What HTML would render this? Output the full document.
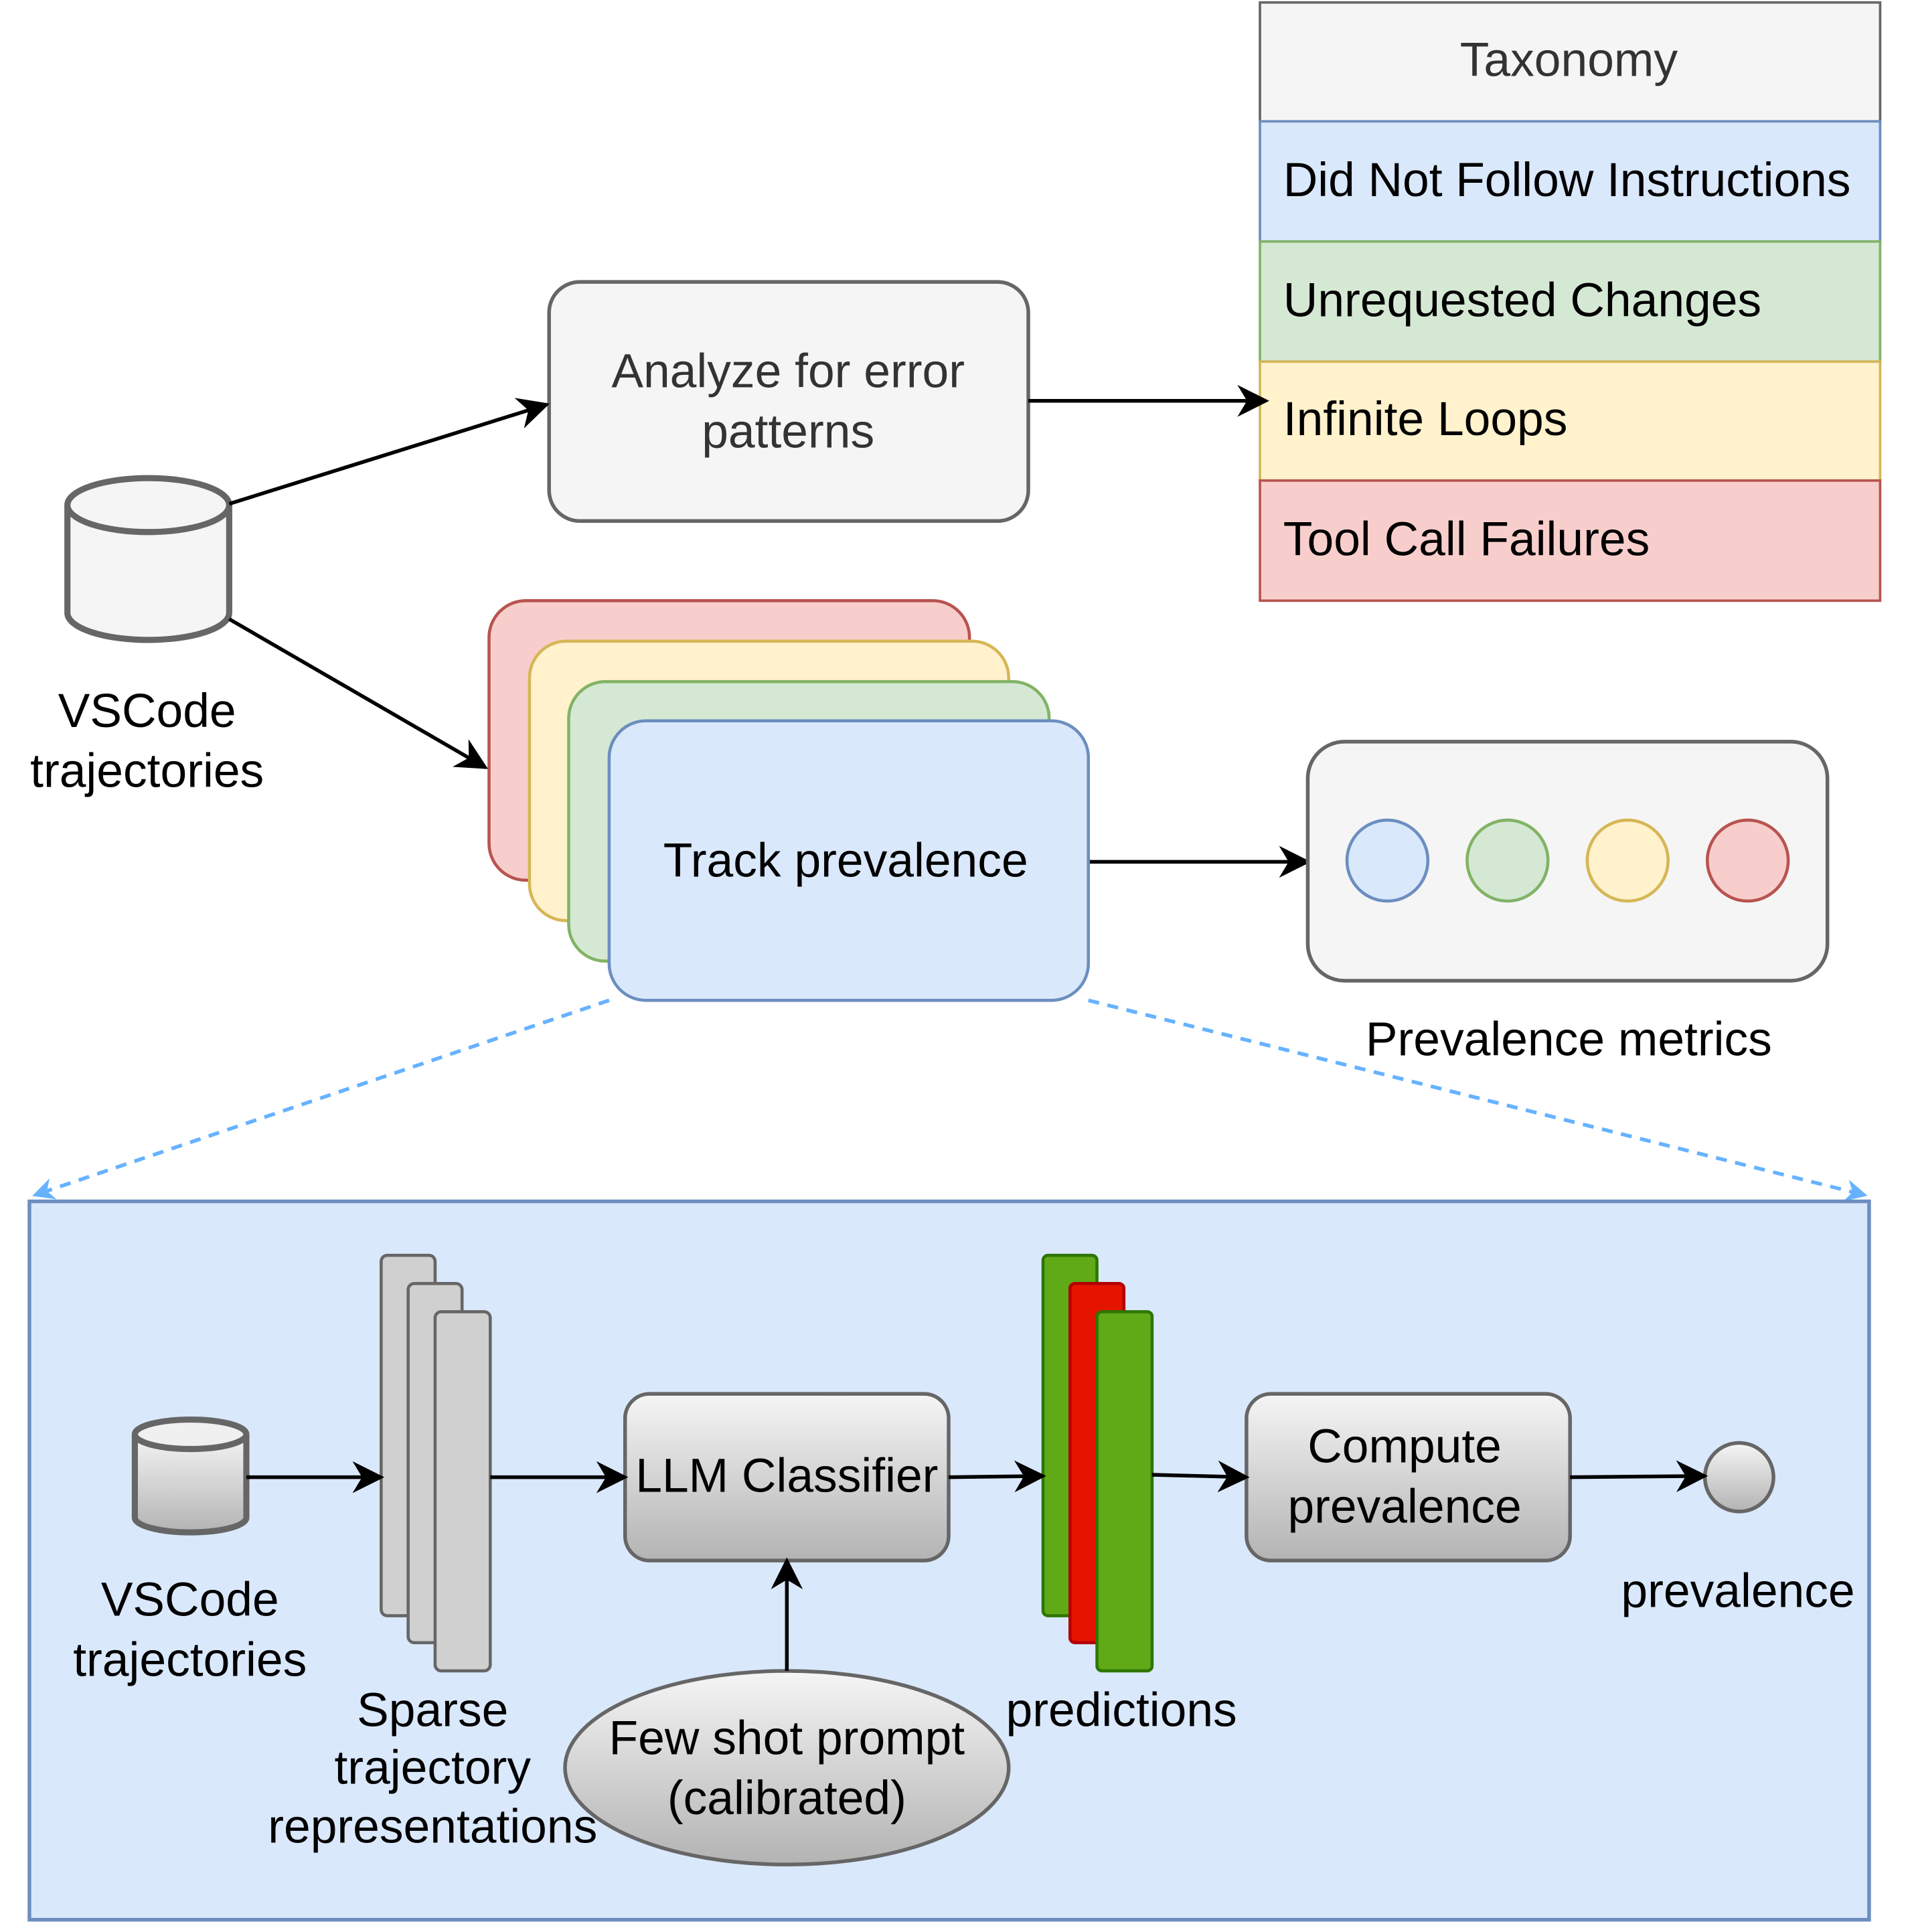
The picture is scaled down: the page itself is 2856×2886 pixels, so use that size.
<!DOCTYPE html>
<html><head><meta charset="utf-8"><style>html,body{margin:0;padding:0;background:#fff}svg{display:block}text{font-family:"Liberation Sans",Arial,sans-serif}</style></head><body>
<svg width="2856" height="2886" viewBox="0 0 1560 1576" preserveAspectRatio="none" xmlns="http://www.w3.org/2000/svg">
<defs>
<marker id="ar" viewBox="0 0 10 10" refX="9" refY="5" markerWidth="32" markerHeight="26" markerUnits="userSpaceOnUse" orient="auto"><path d="M0,0 L10,5 L0,10 L3,5 Z" fill="#000"/></marker>
<marker id="ab" viewBox="0 0 10 10" refX="9" refY="5" markerWidth="20" markerHeight="18" markerUnits="userSpaceOnUse" orient="auto"><path d="M0,0 L10,5 L0,10 L3,5 Z" fill="#66b2ff"/></marker>
<linearGradient id="g" x1="0" y1="0" x2="0" y2="1"><stop offset="0" stop-color="#f5f5f5"/><stop offset="1" stop-color="#b3b3b3"/></linearGradient>
</defs>
<rect x="1028" y="2" width="506" height="97" fill="#f5f5f5" stroke="#666" stroke-width="2"/>
<rect x="1028" y="99" width="506" height="98" fill="#dae8fc" stroke="#6c8ebf" stroke-width="2"/>
<rect x="1028" y="197" width="506" height="98" fill="#d5e8d4" stroke="#82b366" stroke-width="2"/>
<rect x="1028" y="295" width="506" height="97" fill="#fff2cc" stroke="#d6b656" stroke-width="2"/>
<rect x="1028" y="392" width="506" height="98" fill="#f8cecc" stroke="#b85450" stroke-width="2"/>
<g font-size="39">
<text x="1280" y="62" text-anchor="middle" fill="#333">Taxonomy</text>
<text x="1047" y="160" textLength="463">Did Not Follow Instructions</text>
<text x="1047" y="258">Unrequested Changes</text>
<text x="1047" y="355">Infinite Loops</text>
<text x="1047" y="453">Tool Call Failures</text>
</g>
<rect x="448" y="230" width="391" height="195" rx="25" fill="#f5f5f5" stroke="#666" stroke-width="3"/>
<text x="643" y="316" font-size="39" text-anchor="middle" fill="#333">Analyze for error</text>
<text x="643" y="365" font-size="39" text-anchor="middle" fill="#333">patterns</text>
<path d="M55,412 L55,500 A66,22 0 0 0 187,500 L187,412" fill="#f5f5f5" stroke="#666" stroke-width="5"/>
<ellipse cx="121" cy="412" rx="66" ry="22" fill="#f5f5f5" stroke="#666" stroke-width="5"/>
<text x="120" y="593" font-size="39" text-anchor="middle">VSCode</text>
<text x="120" y="642" font-size="39" text-anchor="middle">trajectories</text>
<g stroke="#000" stroke-width="3" fill="none">
<line x1="187" y1="411" x2="446" y2="330" marker-end="url(#ar)"/>
<line x1="187" y1="505" x2="396" y2="626" marker-end="url(#ar)"/>
<line x1="839" y1="327" x2="1033" y2="327" marker-end="url(#ar)"/>
<line x1="888" y1="703" x2="1067" y2="703" marker-end="url(#ar)"/>
</g>
<rect x="399" y="490" width="392" height="228" rx="30" fill="#f8cecc" stroke="#b85450" stroke-width="2.5"/>
<rect x="432" y="523" width="391" height="228" rx="30" fill="#fff2cc" stroke="#d6b656" stroke-width="2.5"/>
<rect x="464" y="556" width="392" height="228" rx="30" fill="#d5e8d4" stroke="#82b366" stroke-width="2.5"/>
<rect x="497" y="588" width="391" height="228" rx="30" fill="#dae8fc" stroke="#6c8ebf" stroke-width="2.5"/>
<text x="690" y="715" font-size="39" text-anchor="middle">Track prevalence</text>
<rect x="1067" y="605" width="424" height="195" rx="30" fill="#f5f5f5" stroke="#666" stroke-width="3"/>
<circle cx="1132" cy="702" r="33" fill="#dae8fc" stroke="#6c8ebf" stroke-width="2.5"/>
<circle cx="1230" cy="702" r="33" fill="#d5e8d4" stroke="#82b366" stroke-width="2.5"/>
<circle cx="1328" cy="702" r="33" fill="#fff2cc" stroke="#d6b656" stroke-width="2.5"/>
<circle cx="1426" cy="702" r="33" fill="#f8cecc" stroke="#b85450" stroke-width="2.5"/>
<text x="1280" y="861" font-size="39" text-anchor="middle">Prevalence metrics</text>
<g stroke="#66b2ff" stroke-width="3" stroke-dasharray="9,7" fill="none">
<line x1="497" y1="816" x2="28" y2="975" marker-end="url(#ab)"/>
<line x1="888" y1="816" x2="1522" y2="975" marker-end="url(#ab)"/>
</g>
<rect x="24" y="980" width="1501" height="586" fill="#dae8fc" stroke="#6c8ebf" stroke-width="3"/>
<path d="M110,1170 L110,1238 A45.5,12 0 0 0 201,1238 L201,1170" fill="url(#g)" stroke="#666" stroke-width="5"/>
<ellipse cx="155.5" cy="1170" rx="45.5" ry="12" fill="#f0f0f0" stroke="#666" stroke-width="5"/>
<text x="155" y="1318" font-size="39" text-anchor="middle">VSCode</text>
<text x="155" y="1367" font-size="39" text-anchor="middle">trajectories</text>
<rect x="311" y="1024" width="44" height="294" rx="5" fill="#d0d0d0" stroke="#666" stroke-width="2.5"/>
<rect x="333" y="1047" width="44" height="293" rx="5" fill="#d0d0d0" stroke="#666" stroke-width="2.5"/>
<rect x="355" y="1070" width="45" height="293" rx="5" fill="#d0d0d0" stroke="#666" stroke-width="2.5"/>
<text x="353" y="1408" font-size="39" text-anchor="middle">Sparse</text>
<text x="353" y="1455" font-size="39" text-anchor="middle">trajectory</text>
<text x="353" y="1503" font-size="39" text-anchor="middle">representations</text>
<rect x="510" y="1137" width="264" height="136" rx="20" fill="url(#g)" stroke="#666" stroke-width="3"/>
<text x="642" y="1217" font-size="39" text-anchor="middle">LLM Classifier</text>
<ellipse cx="642" cy="1442" rx="181" ry="79" fill="url(#g)" stroke="#666" stroke-width="3"/>
<text x="642" y="1431" font-size="39" text-anchor="middle">Few shot prompt</text>
<text x="642" y="1480" font-size="39" text-anchor="middle">(calibrated)</text>
<rect x="851" y="1024" width="44" height="294" rx="4" fill="#60a917" stroke="#2d7600" stroke-width="2.5"/>
<rect x="873" y="1047" width="44" height="293" rx="4" fill="#e51400" stroke="#b20000" stroke-width="2.5"/>
<rect x="895" y="1070" width="45" height="293" rx="4" fill="#60a917" stroke="#2d7600" stroke-width="2.5"/>
<text x="915" y="1408" font-size="39" text-anchor="middle">predictions</text>
<rect x="1017" y="1137" width="264" height="136" rx="20" fill="url(#g)" stroke="#666" stroke-width="3"/>
<text x="1146" y="1193" font-size="39" text-anchor="middle">Compute</text>
<text x="1146" y="1242" font-size="39" text-anchor="middle">prevalence</text>
<circle cx="1419" cy="1205" r="28" fill="url(#g)" stroke="#666" stroke-width="3"/>
<text x="1418" y="1311" font-size="39" text-anchor="middle">prevalence</text>
<g stroke="#000" stroke-width="3" fill="none">
<line x1="201" y1="1205" x2="311" y2="1205" marker-end="url(#ar)"/>
<line x1="400" y1="1205" x2="510" y2="1205" marker-end="url(#ar)"/>
<line x1="774" y1="1205" x2="851" y2="1204" marker-end="url(#ar)"/>
<line x1="940" y1="1203" x2="1017" y2="1205" marker-end="url(#ar)"/>
<line x1="1281" y1="1205" x2="1391" y2="1204" marker-end="url(#ar)"/>
<line x1="642" y1="1363" x2="642" y2="1273" marker-end="url(#ar)"/>
</g>
</svg>
</body></html>
